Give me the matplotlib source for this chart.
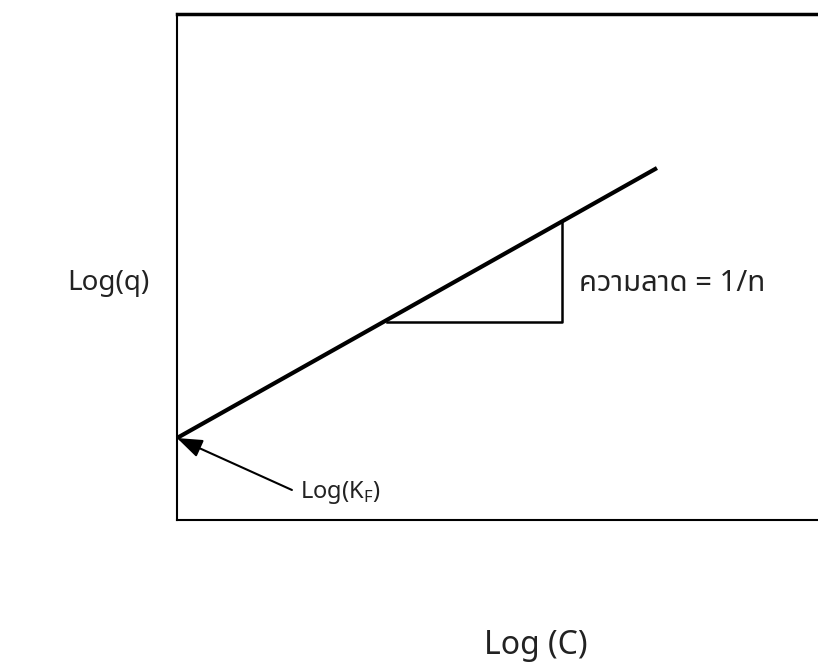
import numpy as np
import matplotlib
matplotlib.use("Agg")
import matplotlib.pyplot as plt

plt.rcParams['font.family'] = ['Noto Sans Thai', 'DejaVu Sans']
plt.rcParams['mathtext.fontset'] = 'custom'
plt.rcParams['mathtext.rm'] = 'Noto Sans Thai'

# Freundlich isotherm, linear form: log q = log KF + (1/n) log C
log_kf = 1.62
slope = 0.726
log_c = [0.0, 7.35]
log_q = [log_kf + slope * c for c in log_c]

# slope triangle (along log C)
tri_x = [3.22, 5.90]
tri_y0 = 3.91

W, H = 818, 662
fig = plt.figure(figsize=(W / 100, H / 100), dpi=100)
# plot box: left 177 px, top 14 px, bottom 520 px, right side runs off the page
ax = fig.add_axes([177 / W, (H - 520) / H, 653 / W, 506 / H])
ax.set_xlim(0, 10)
ax.set_ylim(0, 10)
ax.set_xticks([])
ax.set_yticks([])
for s in ax.spines.values():
    s.set_linewidth(1.5)
ax.spines['top'].set_linewidth(2.5)

ax.plot(log_c, log_q, color='black', lw=3, solid_capstyle='butt', clip_on=False)
ax.plot([tri_x[0], tri_x[1], tri_x[1]],
        [tri_y0, tri_y0, log_kf + slope * tri_x[1]], color='black', lw=1.8)

txt_color = '#222222'
ax.text(6.16, 4.67, 'ความลาด = 1/n', fontsize=21, color=txt_color, va='center')
ax.annotate(r'Log(K$_\mathregular{F}$)', xy=(0, log_kf), xytext=(1.88, 0.55),
            fontsize=17, color=txt_color, va='center',
            arrowprops=dict(arrowstyle='-|>,head_length=0.55,head_width=0.2',
                            color='black', lw=1.5,
                            mutation_scale=28, shrinkA=4, shrinkB=0,
                            relpos=(0, 0.45)))

fig.text(108 / W, (H - 283) / H, 'Log(q)', fontsize=20, color=txt_color,
         ha='center', va='center')
fig.text(536 / W, (H - 645) / H, 'Log (C)', fontsize=23, color=txt_color,
         ha='center', va='center')

fig.savefig('out.png', dpi=100)
